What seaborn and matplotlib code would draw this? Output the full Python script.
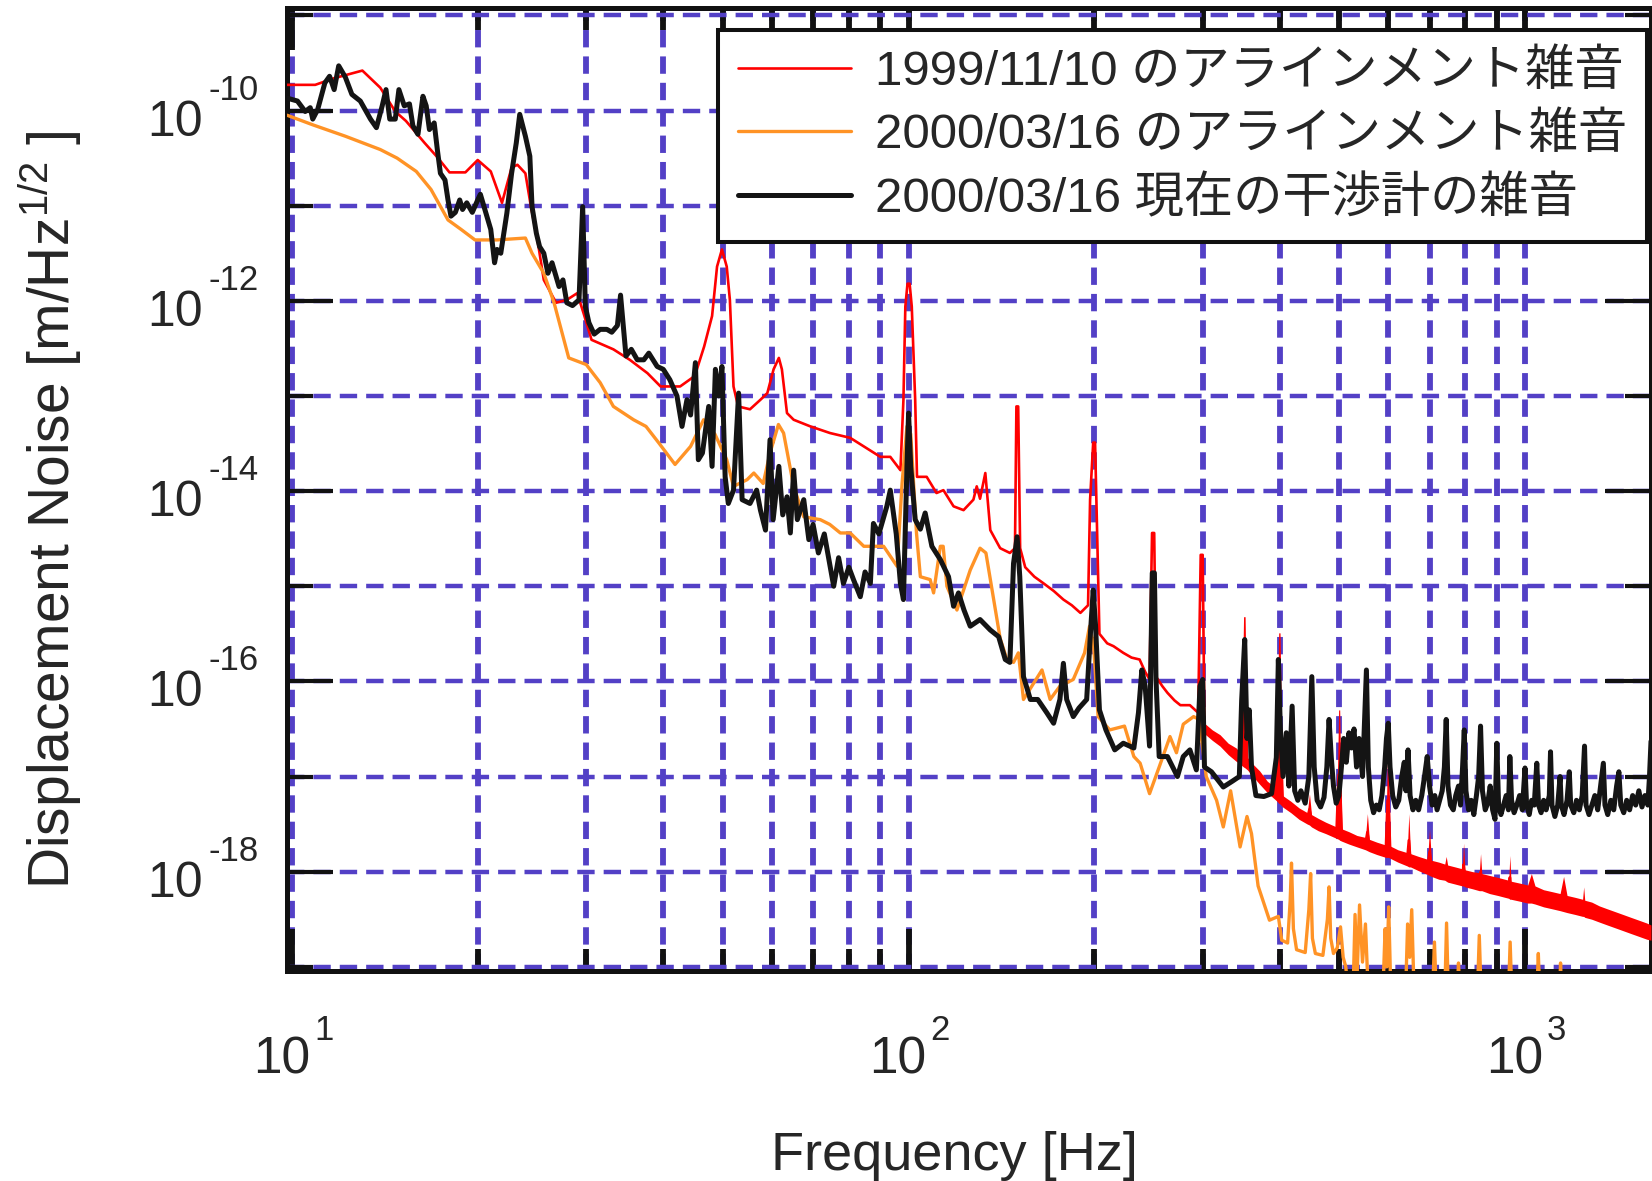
import numpy as np
import pandas as pd
import matplotlib
matplotlib.use("Agg")
import matplotlib.pyplot as plt
import seaborn as sns
from matplotlib.ticker import FixedLocator, NullFormatter
from matplotlib.font_manager import FontProperties

# ---------------- data (frequency [Hz], log10 displacement noise) ----------------
# 1999/11/10 alignment noise: single trace below 300 Hz ...
red_points = [
    (9.82, -9.73), (10.9, -9.73), (11.7, -9.66), (13.0, -9.58), (13.9, -9.76), (14.7, -10.01),
    (15.3, -10.11), (16.4, -10.34), (17.2, -10.49), (18.0, -10.65), (19.1, -10.65), (20.0, -10.52),
    (21.0, -10.64), (21.9, -10.97), (22.7, -10.60), (23.2, -10.57), (23.9, -10.66), (24.4, -11.01),
    (25.0, -11.36), (25.6, -11.78), (26.8, -12.02), (27.9, -11.99), (29.0, -11.92), (29.7, -12.13),
    (30.6, -12.41), (33.2, -12.51), (35.3, -12.62), (37.7, -12.76), (39.6, -12.90), (42.6, -12.90),
    (45.0, -12.79), (46.6, -12.48), (48.0, -12.16), (48.9, -11.64), (49.8, -11.46), (50.7, -11.64),
    (51.3, -11.99), (52.0, -12.90), (52.9, -13.11), (55.3, -13.14), (57.5, -13.04), (59.0, -12.97),
    (60.4, -12.72), (61.6, -12.60), (62.3, -12.72), (63.5, -13.18), (65.1, -13.25), (69.3, -13.32),
    (74.6, -13.39), (80.4, -13.44), (84.6, -13.53), (90.0, -13.64), (93.4, -13.64), (97.0, -13.78),
    (98.1, -13.04), (98.8, -12.06), (99.6, -11.82), (100.4, -11.82), (101.2, -12.06), (102.5, -13.04),
    (103.2, -13.85), (107.0, -13.85), (111.0, -14.02), (113.9, -13.99), (118.3, -14.16), (122.8, -14.20),
    (127.4, -14.09), (129.0, -13.95), (130.6, -14.08), (133.2, -13.81), (135.7, -14.41), (140.8, -14.60),
    (146.0, -14.65), (148.8, -14.60), (149.6, -13.11), (150.6, -13.11), (151.7, -14.60), (154.6, -14.80),
    (160.0, -14.90), (165.6, -14.97), (172.0, -15.05), (178.3, -15.14), (184.0, -15.20), (190.0, -15.28),
    (195.5, -15.20), (197.0, -14.09), (199.3, -13.49), (200.7, -13.49), (202.5, -14.60), (204.0, -15.50),
    (210.0, -15.60), (215.0, -15.63), (223.0, -15.70), (230.0, -15.75), (237.0, -15.77), (242.0, -15.90),
    (246.0, -15.98), (248.3, -14.44), (250.3, -14.44), (252.0, -15.95), (258.0, -16.05), (263.0, -16.12),
    (270.0, -16.20), (276.0, -16.25), (286.0, -16.25), (295.0, -16.33), (297.8, -14.67), (300.0, -14.67),
]
# ... and above 300 Hz a dense noisy band: (frequency, lower edge, upper edge / line peak)
red_band = [
    (302, -16.55, -16.44), (311, -16.62, -16.51), (320, -16.68, -16.56), (330, -16.77, -16.65),
    (340, -16.84, -16.70), (346.5, -16.88, -16.76), (349.5, -16.90, -15.32), (351.5, -16.91, -15.32),
    (354.5, -16.93, -16.80), (362, -17.00, -16.87), (371, -17.08, -16.94), (382, -17.17, -17.05),
    (394.5, -17.25, -17.12), (398.5, -17.28, -15.49), (400.5, -17.29, -15.49), (404.5, -17.32, -17.20),
    (417, -17.38, -17.26), (430, -17.45, -17.33), (443.5, -17.50, -17.38), (447, -17.51, -17.18),
    (450.5, -17.53, -17.40), (462, -17.57, -17.44), (475, -17.60, -17.48), (494.5, -17.65, -17.53),
    (498.5, -17.66, -16.30), (500.5, -17.67, -16.30), (504.5, -17.68, -17.55), (518, -17.71, -17.58),
    (534, -17.74, -17.62), (551, -17.77, -17.64), (555, -17.78, -17.39), (559, -17.79, -17.66),
    (575, -17.82, -17.69), (594.5, -17.85, -17.72), (598.5, -17.85, -16.65), (600.5, -17.85, -16.65),
    (604.5, -17.86, -17.73), (622, -17.90, -17.77), (644, -17.94, -17.80), (648, -17.95, -17.39),
    (652, -17.95, -17.81), (672, -17.99, -17.84), (695, -18.03, -17.87), (700, -18.04, -17.55),
    (705, -18.05, -17.88), (725, -18.08, -17.90), (741, -18.09, -17.92), (745, -18.10, -17.84),
    (749, -18.11, -17.93), (770, -18.13, -17.95), (791, -18.15, -17.97), (795, -18.15, -17.70),
    (799, -18.16, -17.98), (822, -18.18, -18.00), (843, -18.20, -18.01), (847, -18.20, -17.81),
    (851, -18.20, -18.02), (876, -18.23, -18.04), (903, -18.25, -18.06), (928, -18.27, -18.08),
    (941, -18.28, -18.09), (945, -18.29, -17.83), (949, -18.29, -18.10), (980, -18.31, -18.12),
    (1010, -18.33, -18.14), (1024, -18.33, -18.02), (1038, -18.34, -18.15), (1072, -18.37, -18.19),
    (1106, -18.39, -18.21), (1140, -18.41, -18.23), (1155, -18.42, -18.05), (1170, -18.43, -18.25),
    (1206, -18.45, -18.27), (1240, -18.47, -18.29), (1245, -18.47, -18.16), (1250, -18.48, -18.30),
    (1283, -18.50, -18.32), (1320, -18.53, -18.36), (1359, -18.56, -18.39), (1400, -18.59, -18.42),
    (1442, -18.62, -18.45), (1485, -18.65, -18.48), (1530, -18.68, -18.51), (1576, -18.71, -18.54),
    (1601, -18.72, -18.56),
]

orange_points = [
    (9.82, -10.05), (10.8, -10.15), (12.2, -10.27), (13.9, -10.41), (14.8, -10.50), (15.9, -10.64),
    (16.8, -10.83), (17.9, -11.15), (18.8, -11.25), (19.8, -11.36), (21.5, -11.36), (23.9, -11.34),
    (24.5, -11.50), (25.6, -11.71), (26.6, -12.02), (27.6, -12.41), (28.1, -12.60), (30.0, -12.67),
    (31.6, -12.86), (33.2, -13.11), (35.8, -13.25), (37.5, -13.32), (39.3, -13.49), (41.8, -13.72),
    (44.3, -13.53), (46.5, -13.25), (48.5, -13.40), (50.7, -13.67), (52.0, -13.95), (54.7, -13.88),
    (56.1, -13.81), (58.1, -13.92), (59.6, -13.60), (61.5, -13.30), (62.7, -13.39), (65.1, -13.95),
    (67.6, -14.27), (71.9, -14.30), (74.5, -14.35), (77.5, -14.44), (80.4, -14.44), (84.6, -14.58),
    (91.1, -14.58), (95.8, -14.79), (97.6, -13.92), (99.4, -13.32), (100.8, -13.40), (103.0, -14.44),
    (104.5, -14.90), (108.4, -14.93), (109.8, -15.07), (112.6, -14.58), (113.8, -14.58), (115.4, -15.00),
    (119.8, -15.25), (125.9, -14.83), (130.6, -14.60), (133.5, -14.65), (137.4, -15.14), (140.8, -15.55),
    (144.4, -15.77), (148.0, -15.80), (150.7, -15.70), (153.6, -16.19), (159.5, -16.02), (164.6, -15.88),
    (169.7, -16.19), (176.0, -16.05), (185.0, -15.98), (193.0, -15.70), (196.6, -15.42), (199.5, -15.60),
    (203.0, -16.37), (212.0, -16.51), (224.0, -16.47), (232.0, -16.79), (237.5, -16.86), (246.0, -17.18),
    (255.0, -16.90), (265.5, -16.58), (272.0, -16.75), (279.0, -16.45), (290.0, -16.37), (296.0, -16.40),
    (304.0, -17.00), (316.0, -17.25), (324.0, -17.53), (333.0, -17.15), (345.0, -17.74), (354.0, -17.42),
    (360.0, -17.60), (369.0, -18.15), (385.0, -18.51), (398.0, -18.47), (403.0, -18.72), (412.0, -18.75),
    (416.0, -18.30), (418.0, -17.91), (421.0, -18.60), (426.0, -18.82), (440.0, -18.85), (446.0, -18.40),
    (449.0, -18.02), (452.0, -18.70), (457.0, -18.86), (470.0, -18.88), (478.0, -18.50), (481.0, -18.16),
    (484.0, -18.70), (489.0, -18.86), (496.0, -18.80), (502.0, -18.58), (507.0, -18.90), (512.0, -19.00),
    (517.0, -19.30), (526, -19.30), (530, -18.45), (534, -19.10), (539, -18.35), (545, -18.95),
    (551, -18.55), (557, -19.30), (588, -19.30), (593, -18.60), (597, -19.00), (601, -18.37),
    (606, -19.30), (640, -19.30), (645, -18.55), (650, -18.90), (655, -18.40), (661, -19.30),
    (708, -19.30), (713, -18.74), (718, -19.30), (741, -19.30), (746, -18.54), (751, -19.30),
    (776, -19.30), (780, -18.96), (784, -19.30), (837, -19.30), (843, -18.67), (849, -19.30),
    (940, -19.30), (946, -18.74), (952, -19.30), (1045, -19.30), (1051, -18.86), (1057, -19.30),
    (1138, -19.30), (1142, -18.96), (1146, -19.30),
]

black_points = [
    (9.82, -9.87), (10.2, -9.90), (10.5, -10.01), (10.7, -9.97), (10.8, -10.09), (11.0, -9.99),
    (11.3, -9.71), (11.5, -9.64), (11.7, -9.78), (11.9, -9.53), (12.2, -9.65), (12.5, -9.83),
    (12.9, -9.90), (13.4, -10.09), (13.7, -10.18), (14.0, -9.95), (14.2, -9.78), (14.4, -10.09),
    (14.7, -10.09), (14.9, -9.78), (15.2, -9.95), (15.5, -9.93), (15.7, -10.16), (16.0, -10.25),
    (16.3, -9.85), (16.5, -9.95), (16.7, -10.20), (17.0, -10.13), (17.2, -10.41), (17.4, -10.66),
    (17.7, -10.73), (17.9, -10.94), (18.1, -11.11), (18.4, -11.07), (18.7, -10.94), (18.9, -11.04),
    (19.2, -10.97), (19.6, -11.07), (20.0, -10.94), (20.2, -10.88), (20.5, -11.02), (21.0, -11.25),
    (21.3, -11.60), (21.5, -11.46), (21.8, -11.50), (22.3, -11.08), (22.7, -10.66), (23.1, -10.34),
    (23.4, -10.04), (23.9, -10.27), (24.3, -10.48), (24.5, -11.01), (24.9, -11.29), (25.2, -11.43),
    (25.6, -11.50), (26.0, -11.71), (26.4, -11.60), (27.1, -11.85), (27.5, -11.78), (27.9, -12.02),
    (28.5, -12.05), (29.2, -11.99), (29.6, -11.01), (29.9, -12.06), (30.3, -12.23), (30.9, -12.35),
    (31.6, -12.30), (32.4, -12.30), (33.0, -12.33), (33.7, -12.26), (34.1, -11.94), (34.8, -12.58),
    (35.5, -12.51), (36.3, -12.62), (37.2, -12.62), (37.9, -12.55), (39.1, -12.69), (40.0, -12.72),
    (41.0, -12.83), (42.1, -13.00), (42.9, -13.32), (43.7, -13.04), (44.3, -13.20), (45.1, -12.65),
    (45.6, -13.67), (46.3, -13.60), (47.4, -13.11), (48.0, -13.74), (48.6, -12.72), (49.2, -13.00),
    (49.8, -12.69), (50.4, -13.85), (51.0, -14.13), (52.0, -13.99), (53.0, -12.97), (53.7, -14.09),
    (55.3, -14.13), (56.7, -13.99), (57.5, -14.20), (58.6, -14.41), (59.6, -13.46), (60.3, -14.30),
    (61.6, -13.74), (62.5, -14.25), (63.5, -14.06), (64.3, -14.44), (65.1, -13.78), (66.0, -14.30),
    (67.6, -14.09), (68.9, -14.51), (70.0, -14.35), (71.4, -14.65), (73.0, -14.45), (74.6, -14.79),
    (75.6, -15.00), (77.0, -14.70), (78.4, -14.97), (80.0, -14.80), (81.4, -14.93), (83.5, -15.11),
    (85.0, -14.85), (86.7, -14.97), (87.7, -14.34), (89.5, -14.45), (92.2, -14.16), (93.4, -13.99),
    (95.5, -14.45), (97.0, -14.97), (98.1, -15.14), (99.4, -13.74), (100.0, -13.18), (100.8, -13.74),
    (102.5, -14.30), (104.5, -14.40), (106.4, -14.23), (109.1, -14.58), (112.6, -14.72), (116.1, -14.90),
    (118.3, -15.21), (120.5, -15.07), (123.0, -15.25), (125.9, -15.42), (130.6, -15.35), (135.7, -15.46),
    (140.0, -15.53), (143.5, -15.77), (146.0, -15.80), (148.0, -14.76), (150.0, -14.48), (151.5, -14.90),
    (153.6, -15.95), (157.6, -16.19), (162.0, -16.19), (167.6, -16.33), (171.9, -16.44), (176.0, -16.19),
    (178.3, -15.81), (180.5, -16.19), (185.0, -16.37), (189.0, -16.28), (194.5, -16.19), (197.4, -15.46),
    (199.3, -15.04), (201.0, -15.40), (204.0, -16.30), (209.0, -16.51), (216.0, -16.72), (223.0, -16.65),
    (232.0, -16.70), (236.0, -16.33), (239.0, -15.88), (242.0, -16.05), (246.0, -16.68), (248.5, -14.86),
    (250.5, -14.86), (252.0, -15.98), (255.0, -16.79), (263.0, -16.79), (273.0, -17.00), (279.0, -16.79),
    (286.0, -16.72), (293.0, -16.93), (297.0, -16.05), (300.0, -15.98), (302.0, -16.90), (310.0, -16.95),
    (324.0, -17.11), (335.0, -17.05), (344.0, -17.00), (347.0, -16.20), (351.0, -15.56), (354.0, -16.60),
    (357.0, -16.30), (360.0, -16.90), (366.0, -17.20), (377.0, -17.21), (388.0, -17.18), (395.0, -16.80),
    (398.0, -15.77), (401.0, -16.50), (405, -17.00), (410, -16.54), (414, -17.10), (419, -16.26),
    (423, -17.15), (428, -17.25), (433, -17.15), (440, -17.28), (446, -17.00), (451, -15.95),
    (455, -16.90), (460, -17.25), (466, -17.32), (472, -17.22), (477, -16.90), (481, -16.40),
    (485, -16.80), (489, -17.10), (494, -17.28), (499, -17.20), (503, -16.95), (508, -16.60),
    (513, -16.85), (518, -16.54), (523, -16.70), (528, -16.50), (533, -16.90), (538, -16.60),
    (545, -17.00), (553, -15.88), (557, -16.90), (562, -17.25), (568, -17.38), (574, -17.30),
    (580, -17.35), (586, -17.20), (592, -16.90), (596, -16.60), (600, -16.44), (604, -16.90),
    (610, -17.20), (617, -17.32), (624, -17.25), (631, -17.00), (637, -16.85), (641, -17.15),
    (646, -16.72), (651, -17.20), (658, -17.35), (665, -17.25), (672, -17.35), (680, -17.20),
    (687, -17.00), (694, -16.79), (700, -17.10), (707, -17.30), (714, -17.20), (720, -17.35),
    (727, -17.25), (734, -17.15), (740, -16.90), (745, -16.40), (750, -17.10), (757, -17.30),
    (765, -17.35), (772, -17.20), (780, -17.10), (786, -17.30), (792, -16.90), (797, -16.51),
    (802, -17.15), (810, -17.35), (818, -17.25), (826, -17.40), (834, -17.20), (841, -17.00),
    (847, -16.47), (853, -17.15), (862, -17.35), (870, -17.28), (878, -17.10), (886, -17.35),
    (894, -17.45), (900, -16.65), (906, -17.30), (914, -17.40), (923, -17.30), (932, -17.20),
    (940, -17.35), (945, -16.79), (951, -17.25), (960, -17.38), (970, -17.30), (980, -17.20),
    (990, -17.35), (1000, -16.91), (1006, -17.30), (1016, -17.40), (1025, -17.25), (1035, -17.30),
    (1045, -16.86), (1052, -17.30), (1062, -17.38), (1072, -17.25), (1082, -17.35), (1095, -17.20),
    (1100, -16.74), (1106, -17.30), (1118, -17.42), (1130, -17.30), (1140, -17.00), (1145, -17.30),
    (1157, -17.40), (1170, -17.25), (1180, -16.95), (1186, -17.30), (1200, -17.38), (1212, -17.25),
    (1225, -17.35), (1238, -17.20), (1249, -16.68), (1256, -17.30), (1270, -17.40), (1284, -17.30),
    (1298, -17.20), (1312, -17.35), (1326, -17.10), (1340, -16.86), (1348, -17.30), (1362, -17.40),
    (1378, -17.25), (1393, -17.35), (1408, -17.10), (1420, -16.95), (1430, -17.30), (1446, -17.38),
    (1462, -17.25), (1478, -17.35), (1495, -17.20), (1512, -17.30), (1530, -17.15), (1548, -17.32),
    (1565, -17.20), (1582, -17.30), (1592, -17.00), (1601, -16.63),
]

series_labels = ["1999/11/10 のアラインメント雑音",
                 "2000/03/16 のアラインメント雑音",
                 "2000/03/16 現在の干渉計の雑音"]
x_major = [10, 100, 1000]
x_major_exp = ["1", "2", "3"]
x_minor = [20, 30, 40, 50, 60, 70, 80, 90, 200, 300, 400, 500, 600, 700, 800, 900]
y_major_exp = [-10, -12, -14, -16, -18]
y_minor_exp = [-9, -11, -13, -15, -17, -19]

# ---------------- style ----------------
sns.set_style("white")
plt.rcParams["font.family"] = ["Liberation Sans", "Noto Sans CJK JP"]
plt.rcParams["mathtext.fontset"] = "custom"
plt.rcParams["mathtext.rm"] = "Liberation Sans"
plt.rcParams["mathtext.it"] = "Liberation Sans:italic"
plt.rcParams["mathtext.bf"] = "Liberation Sans:bold"
plt.rcParams["lines.scale_dashes"] = False

GRID = "#5340C6"
W, H = 1652, 1181
fig = plt.figure(figsize=(W / 100, H / 100), dpi=100)
ax_l, ax_r, ax_t, ax_b = 287, 1651, 7.5, 971
ax = fig.add_axes([ax_l / W, 1 - ax_b / H, (ax_r - ax_l) / W, (ax_b - ax_t) / H])
ax.set_xscale("log")
ax.set_yscale("log")


def to_frame(points):
    f, v = zip(*points)
    return pd.DataFrame({"freq": np.array(f, float), "noise": 10.0 ** np.array(v, float)})


# red: single trace + (lower, upper) observations of the noisy band; seaborn draws the
# min..max interval as a solid band
red_rows = list(red_points)
for f, lo, hi in red_band:
    red_rows += [(f, lo), (f, hi)]
sns.lineplot(data=to_frame(red_rows), x="freq", y="noise", estimator="mean",
             errorbar=("pi", 100), err_kws={"alpha": 1, "linewidth": 0, "zorder": 3},
             color="#FF0000", linewidth=1.9, label=series_labels[0], ax=ax, zorder=3)
sns.lineplot(data=to_frame(orange_points), x="freq", y="noise", estimator=None, sort=False,
             color="#FF9326", linewidth=2.4, label=series_labels[1], ax=ax, zorder=3)
sns.lineplot(data=to_frame(black_points), x="freq", y="noise", estimator=None, sort=False,
             color="#141414", linewidth=3.6, label=series_labels[2], ax=ax, zorder=3)

ax.set_xlim(9.81, 1601)
ax.set_ylim(10 ** -19.044, 10 ** -8.917)

ax.xaxis.set_major_locator(FixedLocator(x_major))
ax.xaxis.set_minor_locator(FixedLocator(x_minor))
ax.yaxis.set_major_locator(FixedLocator([10.0 ** e for e in y_major_exp]))
ax.yaxis.set_minor_locator(FixedLocator([10.0 ** e for e in y_minor_exp]))
for axis in (ax.xaxis, ax.yaxis):
    axis.set_major_formatter(NullFormatter())
    axis.set_minor_formatter(NullFormatter())

ax.tick_params(axis="x", which="major", direction="in", length=30, width=4.2,
               top=True, bottom=True, color="#111111")
ax.tick_params(axis="x", which="minor", direction="in", length=16, width=4.2,
               top=True, bottom=True, color="#111111")
ax.tick_params(axis="y", which="major", direction="in", length=33, width=3.0,
               left=True, right=True, color="#111111")
ax.tick_params(axis="y", which="minor", direction="in", length=19, width=3.0,
               left=True, right=True, color="#111111")

ax.set_axisbelow(True)
ax.xaxis.grid(True, which="both", color=GRID, linestyle=(0, (12.5, 6.5)), linewidth=4.2)
ax.yaxis.grid(True, which="both", color=GRID, linestyle=(0, (12.5, 6.5)), linewidth=3.2)

for sp in ax.spines.values():
    sp.set_color("#111111")
    sp.set_linewidth(3.6)

# tick labels: 10 with raised exponent
for e in y_major_exp:
    ax.annotate("10", xy=(0, 10.0 ** e), xycoords=("axes fraction", "data"),
                xytext=(-84, -25), textcoords="offset pixels", ha="right", va="baseline",
                fontsize=36, annotation_clip=False)
    ax.annotate(str(e), xy=(0, 10.0 ** e), xycoords=("axes fraction", "data"),
                xytext=(-79, 11), textcoords="offset pixels", ha="left", va="baseline",
                fontsize=25, annotation_clip=False)
for v, ex in zip(x_major, x_major_exp):
    ax.annotate("10", xy=(v, 0), xycoords=("data", "axes fraction"),
                xytext=(18, -103), textcoords="offset pixels", ha="right", va="baseline",
                fontsize=37, annotation_clip=False)
    ax.annotate(ex, xy=(v, 0), xycoords=("data", "axes fraction"),
                xytext=(22, -69), textcoords="offset pixels", ha="left", va="baseline",
                fontsize=25, annotation_clip=False)

ax.set_xlabel("Frequency [Hz]", fontsize=39, va="baseline")
ax.xaxis.set_label_coords((954.5 - ax_l) / (ax_r - ax_l), -(1170 - ax_b) / (ax_b - ax_t))
ax.set_ylabel(r"Displacement Noise [m/Hz$^{\mathregular{1/2}}$ ]", fontsize=41, va="baseline")
ax.yaxis.set_label_coords((69 - ax_l) / (ax_r - ax_l), (ax_b - 509.5) / (ax_b - ax_t))

fp = FontProperties(family=["Liberation Sans", "Noto Sans CJK JP"], size=35.5)
leg = ax.legend(loc="upper right", bbox_to_anchor=(1647 / W, 1 - 29.5 / H),
                bbox_transform=fig.transFigure, prop=fp, frameon=True, fancybox=False,
                framealpha=1, edgecolor="#111111", facecolor="white", borderpad=0.40,
                handlelength=2.29, handletextpad=0.49, labelspacing=0.36, borderaxespad=0)
leg.get_frame().set_linewidth(2.9)
leg.set_zorder(10)

fig.savefig("out.png", dpi=100)
